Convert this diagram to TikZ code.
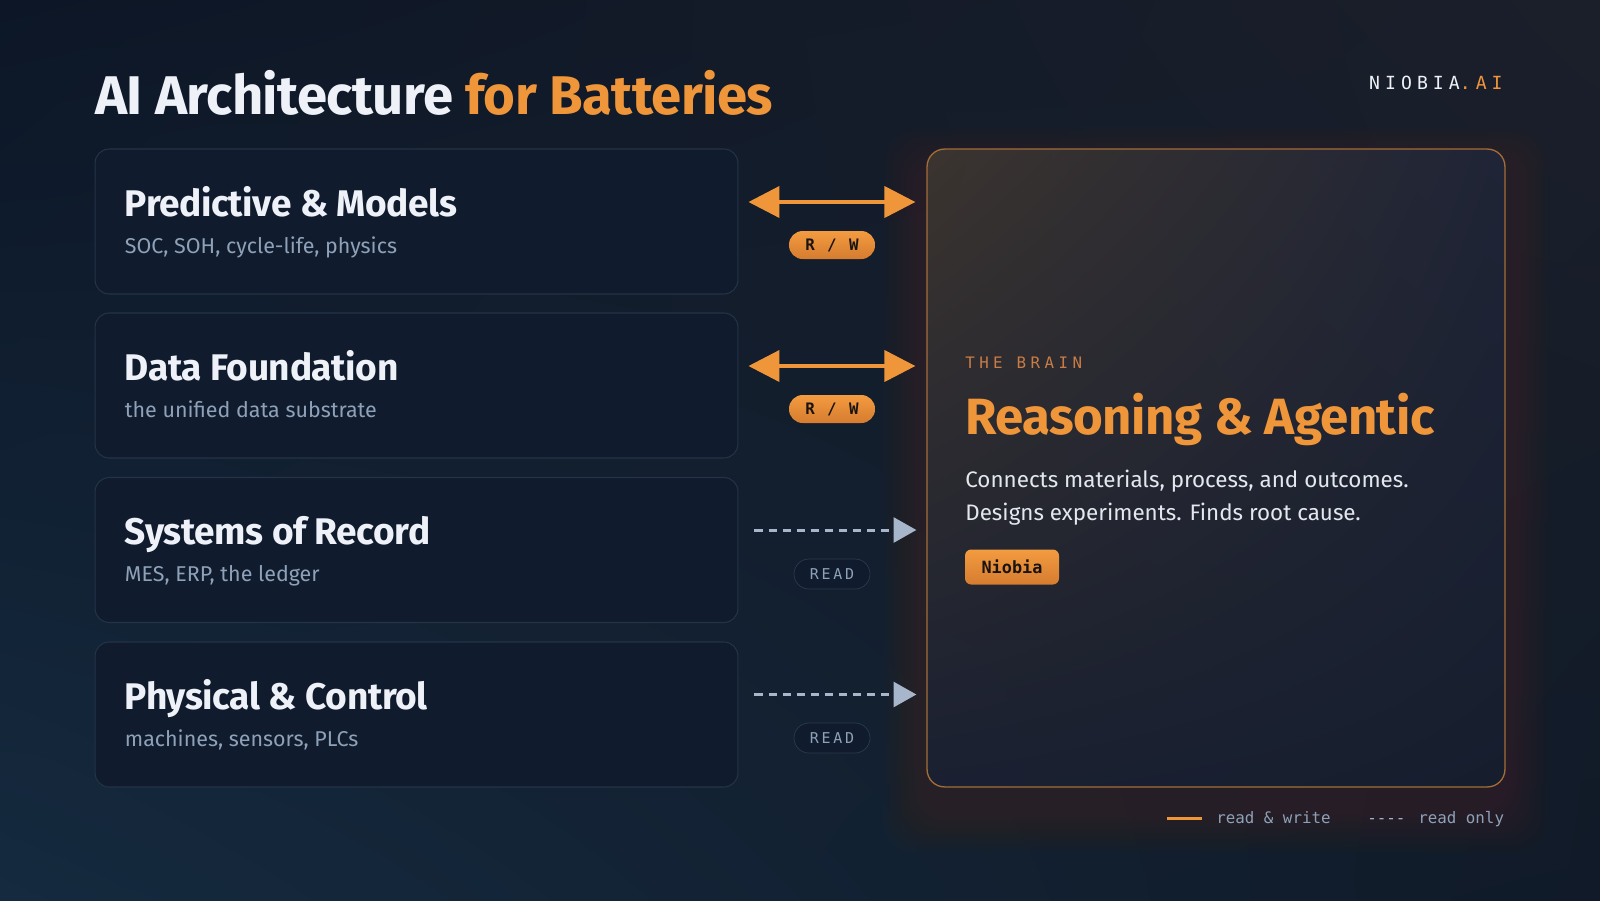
\documentclass[tikz,border=0pt]{standalone}
\usepackage{fontspec}
\setmainfont{Fira Sans}
\newfontfamily\headfont[LetterSpace=-1.0]{Fira Sans}
\newfontfamily\codefont{DejaVu Sans Mono}
\newfontfamily\widecode[LetterSpace=28]{DejaVu Sans Mono}
\newfontfamily\tagcode[LetterSpace=18]{DejaVu Sans Mono}
\usetikzlibrary{arrows.meta,positioning,calc,shadings}

\definecolor{bgTL}{HTML}{0C1626}
\definecolor{bgTR}{HTML}{1B1F2A}
\definecolor{bgBL}{HTML}{152A3F}
\definecolor{bgBR}{HTML}{101A28}
\definecolor{card}{HTML}{101C2D}
\definecolor{cardline}{HTML}{243347}
\definecolor{accent}{HTML}{F0963A}
\definecolor{brainlab}{HTML}{C97C45}
\definecolor{ink}{HTML}{EEF2F8}
\definecolor{bodyink}{HTML}{E3E8EF}
\definecolor{muted}{HTML}{8FA1B8}
\definecolor{readgray}{HTML}{A7B6CA}
\definecolor{tagtop}{HTML}{F39B40}
\definecolor{tagbot}{HTML}{D67C30}
\definecolor{tagink}{HTML}{1A1410}
\definecolor{tagline}{HTML}{2A3A4E}
\definecolor{brainTL}{HTML}{3B342F}
\definecolor{brainTR}{HTML}{1F2436}
\definecolor{brainBL}{HTML}{1A2031}
\definecolor{brainBR}{HTML}{161E2E}
\definecolor{brainline}{HTML}{A36D38}
\definecolor{glow}{HTML}{4A3826}

\tikzset{
	card/.style={draw=cardline, line width=0.6pt, fill=card, rounded corners=8pt,
		minimum width=12.86cm, minimum height=2.9cm, inner sep=0pt},
	brainbox/.style={draw=brainline, line width=0.75pt, rounded corners=10pt,
		minimum width=11.56cm, minimum height=12.76cm, inner sep=0pt,
		upper left=brainTL, upper right=brainTR, lower left=brainBL, lower right=brainBR},
	head/.style={anchor=base west, inner sep=0pt, text=ink,
		font=\headfont\bfseries\fontsize{21.1}{25}\selectfont},
	note/.style={anchor=base west, inner sep=0pt, text=muted, font=\fontsize{12.2}{14}\selectfont},
	rwtag/.style={rounded corners=7.8pt, minimum width=1.72cm, minimum height=0.56cm,
		inner sep=0pt, top color=tagtop, bottom color=tagbot, text=tagink,
		font=\tagcode\bfseries\fontsize{9}{10}\selectfont},
	rotag/.style={draw=tagline, fill=card, rounded corners=8.5pt, minimum width=1.52cm,
		minimum height=0.6cm, inner sep=0pt, text=muted,
		font=\tagcode\fontsize{8.5}{9}\selectfont},
	rw/.style={draw=accent, line width=2.3pt,
		{Triangle[length=17.6pt,width=17.6pt]}-{Triangle[length=17.6pt,width=17.6pt]}},
	ro/.style={draw=readgray, line width=1.7pt, dash pattern=on 4.6pt off 3.4pt,
		-{Triangle[length=13pt,width=14.2pt]}},
	legtxt/.style={anchor=base west, inner sep=0pt, text=muted,
		font=\codefont\fontsize{9}{10}\selectfont},
}

\begin{document}
\begin{tikzpicture}[x=0.02cm, y=-0.02cm]
	% backdrop
	\shade[upper left=bgTL, upper right=bgTR, lower left=bgBL, lower right=bgBR]
		(0,0) rectangle (1600,900);
	\useasboundingbox (0,0) rectangle (1600,900);

	% heading and logo
	\node[anchor=base west, inner sep=0pt, font=\headfont\bfseries\fontsize{31}{36}\selectfont] at (95,114) (title)
		{\textcolor{ink}{AI Architecture} \textcolor{accent}{for Batteries}};
	\node[anchor=base east, inner sep=0pt, font=\widecode\fontsize{10.3}{12}\selectfont] at (1503,89) (logo)
		{\textcolor{ink}{NIOBIA}\textcolor{accent}{.AI}};

	% layer cards
	\node[card] at (416.5,221.5) (pm) {};
	\node[card] at (416.5,385.5) (df) {};
	\node[card] at (416.5,550.0) (sr) {};
	\node[card] at (416.5,714.5) (pc) {};
	\node[head] at ($(pm.north west)+(30,68)$) (pmT) {Predictive \& Models};
	\node[note] at ($(pm.north west)+(30,105)$) (pmS) {SOC, SOH, cycle-life, physics};
	\node[head] at ($(df.north west)+(30,68)$) (dfT) {Data Foundation};
	\node[note] at ($(df.north west)+(30,105)$) (dfS) {the unified data substrate};
	\node[head] at ($(sr.north west)+(30,68)$) (srT) {Systems of Record};
	\node[note] at ($(sr.north west)+(30,105)$) (srS) {MES, ERP, the ledger};
	\node[head] at ($(pc.north west)+(30,68)$) (pcT) {Physical \& Control};
	\node[note] at ($(pc.north west)+(30,105)$) (pcS) {machines, sensors, PLCs};

	% the brain, with a faint warm halo below it
	\foreach \g in {2,4,...,44}
		\fill[glow, fill opacity=0.028, rounded corners=18pt] ({927-\g},{149-\g+22}) rectangle ({1505+\g},{787+\g+22});
	\node[brainbox, shade] at (1216,468) (brain) {};
	\node[anchor=base west, inner sep=0pt, text=brainlab, font=\widecode\fontsize{9}{10}\selectfont]
		at (965,368) (brainK) {THE BRAIN};
	\node[anchor=base west, inner sep=0pt, text=accent, font=\headfont\bfseries\fontsize{29}{33}\selectfont]
		at (965,434) (brainT) {Reasoning \& Agentic};
	\node[anchor=base west, inner sep=0pt, text=bodyink, font=\fontsize{12.75}{15}\selectfont]
		at (965,487) (brainL1) {Connects materials, process, and outcomes.};
	\node[anchor=base west, inner sep=0pt, text=bodyink, font=\fontsize{12.75}{15}\selectfont]
		at (965,520) (brainL2) {Designs experiments. Finds root cause.};
	\node[rwtag, rounded corners=3.5pt, minimum width=1.88cm, minimum height=0.7cm,
		font=\codefont\bfseries\fontsize{9.6}{11}\selectfont] at (1012,567) (tag) {Niobia};

	% links
	\draw[rw] ($(pm.east)+(10,-19.5)$) -- ($(pm.east -| brain.west)+(-11,-19.5)$);
	\draw[rw] ($(df.east)+(10,-19.5)$) -- ($(df.east -| brain.west)+(-11,-19.5)$);
	\draw[ro] ($(sr.east)+(16,-20)$) -- ($(sr.east -| brain.west)+(-10,-20)$);
	\draw[ro] ($(pc.east)+(16,-20)$) -- ($(pc.east -| brain.west)+(-10,-20)$);
	\node[rwtag] at (832,245) (tag1) {R / W};
	\node[rwtag] at (832,409) (tag2) {R / W};
	\node[rotag] at (832,574) (tag3) {READ};
	\node[rotag] at (832,738) (tag4) {READ};

	% legend
	\coordinate (lgA) at (1167,818);
	\coordinate (lgB) at (1202,818);
	\draw[accent, line width=1.7pt] (lgA) -- (lgB);
	\node[legtxt] at (1216,823) (lgRW) {read \& write};
	\node[legtxt, text=readgray] at (1367,823) (lgDash) {----};
	\node[legtxt] at (1418,823) (lgRO) {read only};
\end{tikzpicture}
\end{document}
